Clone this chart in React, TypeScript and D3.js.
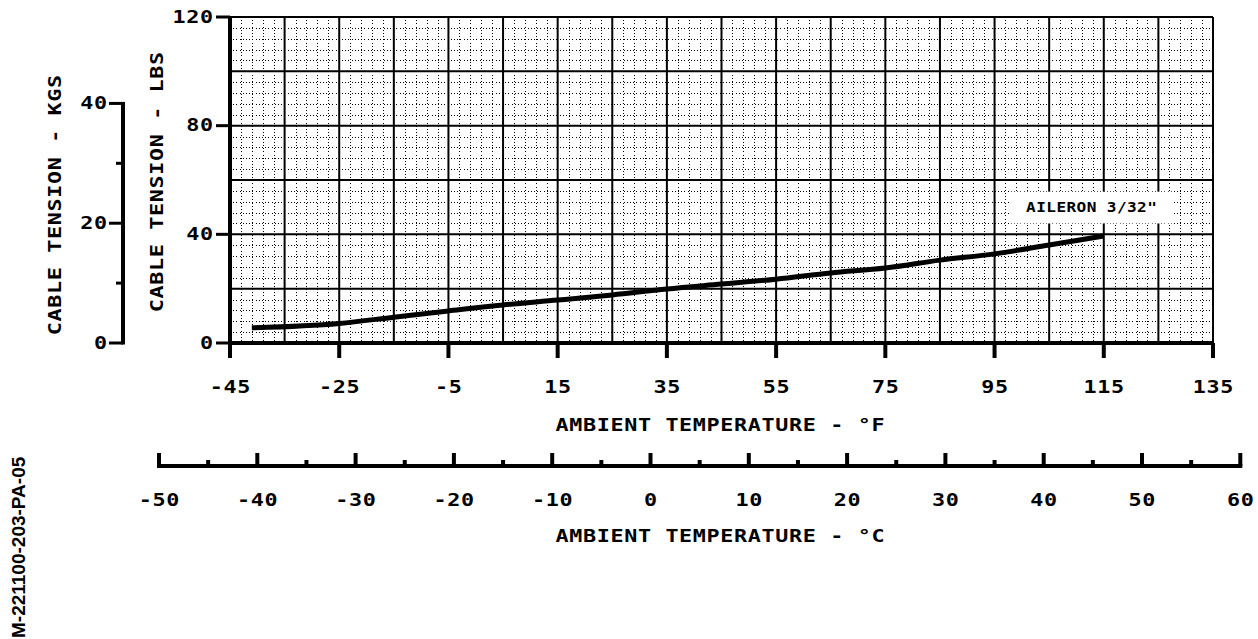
import React, { useEffect, useRef } from 'react';
import * as d3 from 'd3';

// ambient temperature (°F) vs cable tension (lbs), aileron 3/32" cable
const curveF = [-41, -25, -15, -5, 5, 15, 25, 35, 45, 55, 65, 75, 85, 95, 105, 115];
const curveLbs = [5.6, 7.2, 9.5, 11.8, 14.0, 15.8, 17.7, 19.9, 21.7, 23.5, 25.8, 27.6, 30.5, 32.8, 36.1, 39.4];

const fTicks = [-45, -25, -5, 15, 35, 55, 75, 95, 115, 135];
const lbsTicks = [0, 40, 80, 120];
const kgTicks = [0, 20, 40];
const kgMinor = [10, 30];
const cTicks = [-50, -40, -30, -20, -10, 0, 10, 20, 30, 40, 50, 60];
const cMinor = [-45, -35, -25, -15, -5, 5, 15, 25, 35, 45, 55];

const seriesLabel = 'AILERON 3/32"';
const drawingId = 'M-221100-203-PA-05';

const W = 1258;
const H = 639;
const FONT = '"DejaVu Sans Mono", monospace';

export default function App() {
  const ref = useRef<SVGSVGElement>(null);

  useEffect(() => {
    const svg = d3.select(ref.current);
    svg.selectAll('*').remove();

    const x = d3.scaleLinear().domain([-45, 135]).range([230, 1213]);
    const y = d3.scaleLinear().domain([0, 120]).range([343, 17]);
    const xc = (c: number) => x(c * 9 / 5 + 32);
    const yk = (kg: number) => y(kg * 2.20462);

    const g = svg.append('g');

    // wide CAD style lettering: mono bold stretched horizontally
    const label = (s: string | number, tx: number, ty: number, anchor = 'middle',
      rot = 0, size = 17, sx = 1.28, ls = 0.5) => {
      g.append('text')
        .attr('transform', `translate(${tx},${ty}) rotate(${rot}) scale(${sx},1)`)
        .attr('font-family', FONT).attr('font-weight', 'bold')
        .attr('font-size', size).attr('letter-spacing', ls).attr('fill', '#000')
        .attr('text-anchor', anchor).attr('dominant-baseline', 'central')
        .attr('dx', anchor === 'middle' ? ls / 2 : anchor === 'end' ? ls : 0)
        .text(s);
    };

    // minor dotted grid
    const minorF = d3.range(-45, 135, 2).filter((d) => (d + 45) % 10 !== 0);
    const minorL = d3.range(0, 120, 4).filter((d) => d % 20 !== 0);
    g.selectAll('.mv').data(minorF).enter().append('line')
      .attr('x1', (d) => Math.round(x(d)) + 0.5).attr('x2', (d) => Math.round(x(d)) + 0.5)
      .attr('y1', y(120)).attr('y2', y(0))
      .attr('stroke', '#000').attr('stroke-width', 1).attr('stroke-dasharray', '1,2.2')
      .attr('shape-rendering', 'crispEdges');
    g.selectAll('.mh').data(minorL).enter().append('line')
      .attr('y1', (d) => Math.round(y(d)) + 0.5).attr('y2', (d) => Math.round(y(d)) + 0.5)
      .attr('x1', x(-45)).attr('x2', x(135))
      .attr('stroke', '#000').attr('stroke-width', 1).attr('stroke-dasharray', '1,2.2')
      .attr('shape-rendering', 'crispEdges');

    // major grid
    g.selectAll('.gv').data(d3.range(-35, 136, 10)).enter().append('line')
      .attr('x1', (d) => x(d)).attr('x2', (d) => x(d))
      .attr('y1', y(120)).attr('y2', y(0))
      .attr('stroke', '#000').attr('stroke-width', 2);
    g.selectAll('.gh').data(d3.range(20, 121, 20)).enter().append('line')
      .attr('y1', (d) => y(d)).attr('y2', (d) => y(d))
      .attr('x1', x(-45)).attr('x2', x(135))
      .attr('stroke', '#000').attr('stroke-width', 2);

    // main axes
    g.append('line').attr('x1', x(-45)).attr('x2', x(-45)).attr('y1', y(120) - 1).attr('y2', y(0) + 15)
      .attr('stroke', '#000').attr('stroke-width', 4);
    g.append('line').attr('x1', x(-45) - 2).attr('x2', x(135) + 1).attr('y1', y(0)).attr('y2', y(0))
      .attr('stroke', '#000').attr('stroke-width', 4);

    g.selectAll('.xt').data(fTicks).enter().append('line')
      .attr('x1', (d) => x(d)).attr('x2', (d) => x(d))
      .attr('y1', y(0)).attr('y2', y(0) + 15)
      .attr('stroke', '#000').attr('stroke-width', 4);
    g.selectAll('.yt').data(lbsTicks).enter().append('line')
      .attr('x1', x(-45) - 14).attr('x2', x(-45))
      .attr('y1', (d) => y(d)).attr('y2', (d) => y(d))
      .attr('stroke', '#000').attr('stroke-width', 3);

    fTicks.forEach((d) => label(d, x(d), 387));
    lbsTicks.forEach((d) => label(d, x(-45) - 17, y(d), 'end'));

    // curve
    const line = d3.line<number>()
      .x((d, i) => x(curveF[i]))
      .y((d) => y(d))
      .curve(d3.curveMonotoneX);
    g.append('path').attr('d', line(curveLbs)).attr('fill', 'none')
      .attr('stroke', '#000').attr('stroke-width', 5);

    // series label
    g.append('rect').attr('x', x(98)).attr('y', y(55.7))
      .attr('width', x(127.5) - x(98)).attr('height', y(44) - y(55.7))
      .attr('fill', '#fff');
    label(seriesLabel, (x(98) + x(127.5)) / 2, (y(55.7) + y(44)) / 2, 'middle', 0, 14, 1.15, 0.35);

    // kgs axis
    const kx = 123;
    g.append('line').attr('x1', kx).attr('x2', kx).attr('y1', yk(40) - 1.5).attr('y2', yk(0) + 1.5)
      .attr('stroke', '#000').attr('stroke-width', 4);
    g.selectAll('.kt').data(kgTicks).enter().append('line')
      .attr('x1', kx - 14).attr('x2', kx)
      .attr('y1', (d) => yk(d)).attr('y2', (d) => yk(d))
      .attr('stroke', '#000').attr('stroke-width', 3);
    g.selectAll('.km').data(kgMinor).enter().append('line')
      .attr('x1', kx - 7).attr('x2', kx)
      .attr('y1', (d) => yk(d)).attr('y2', (d) => yk(d))
      .attr('stroke', '#000').attr('stroke-width', 3);
    kgTicks.forEach((d) => label(d, kx - 16, yk(d), 'end'));

    // axis titles
    label('CABLE TENSION - KGS', 55, 205, 'middle', -90);
    label('CABLE TENSION - LBS', 157, 182, 'middle', -90);
    label('AMBIENT TEMPERATURE - °F', 720, 425);

    // celsius axis
    const cy = 466;
    g.append('line').attr('x1', xc(-50) - 2).attr('x2', xc(60) + 2).attr('y1', cy).attr('y2', cy)
      .attr('stroke', '#000').attr('stroke-width', 4);
    g.selectAll('.ct').data(cTicks).enter().append('line')
      .attr('x1', (d) => xc(d)).attr('x2', (d) => xc(d))
      .attr('y1', cy).attr('y2', cy - 13)
      .attr('stroke', '#000').attr('stroke-width', 4);
    g.selectAll('.cm').data(cMinor).enter().append('line')
      .attr('x1', (d) => xc(d)).attr('x2', (d) => xc(d))
      .attr('y1', cy).attr('y2', cy - 6)
      .attr('stroke', '#000').attr('stroke-width', 4);
    cTicks.forEach((d) => label(d, xc(d), 500));
    label('AMBIENT TEMPERATURE - °C', 720, 536);

    // drawing number
    g.append('text')
      .attr('transform', 'translate(18,638) rotate(-90)')
      .attr('font-family', '"Liberation Sans", Arial, sans-serif')
      .attr('font-size', 19).attr('font-weight', 'bold').attr('fill', '#000')
      .attr('dominant-baseline', 'central')
      .text(drawingId);
  }, []);

  return (
    <svg ref={ref} width={W} height={H}
      style={{ position: 'absolute', left: 0, top: 0, background: '#fff' }} />
  );
}
